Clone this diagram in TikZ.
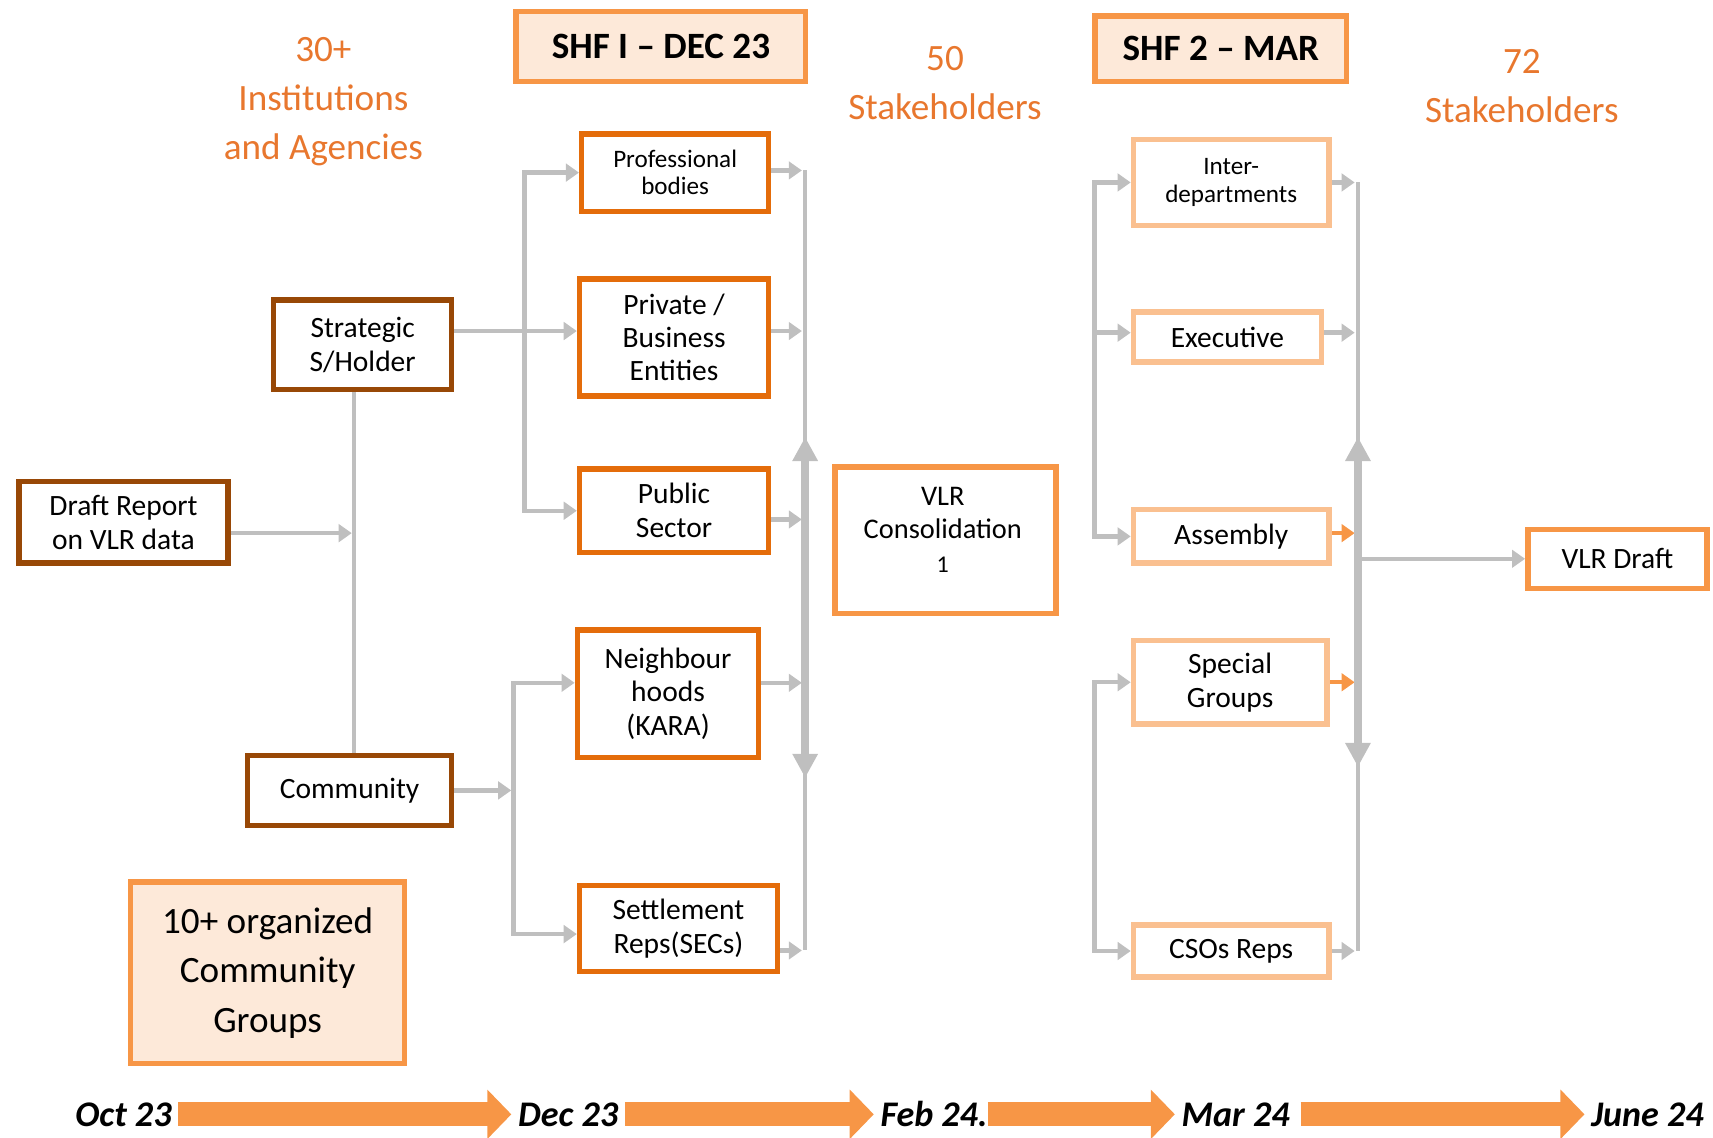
\documentclass[tikz,border=0pt]{standalone}
\usepackage{fontspec}
\setmainfont{Carlito}
\usetikzlibrary{arrows.meta,backgrounds}
\definecolor{darkor}{HTML}{E46C0A}
\definecolor{brownb}{HTML}{984806}
\definecolor{medor}{HTML}{F79646}
\definecolor{lightor}{HTML}{FAC090}
\definecolor{peach}{HTML}{FDE9D9}
\definecolor{lgray}{HTML}{BFBFBF}
\definecolor{textor}{HTML}{E8772E}
\newcommand\myfs[2]{\fontsize{#1}{#2}\selectfont}
\begin{document}
\begin{tikzpicture}[x=1pt,y=-1pt,
  tbox/.style={draw, line width=5pt, fill=white, align=center, inner sep=0pt, text=black},
  box1/.style={tbox, draw=darkor},
  boxb/.style={tbox, draw=brownb},
  boxm/.style={tbox, draw=medor},
  boxl/.style={tbox, draw=lightor},
  headbox/.style={tbox, draw=medor, fill=peach},
  toplab/.style={align=center, text=textor, font=\myfs{34}{45}, inner sep=0pt},
  gline/.style={draw=lgray, line width=4pt},
  garrow/.style={gline, -{Triangle[width=16pt,length=12pt]}},
  oarrow/.style={draw=medor, line width=4pt, -{Triangle[width=16pt,length=12pt]}},
  bidir/.style={draw=lgray, line width=7pt, {Triangle[width=22pt,length=22pt]}-{Triangle[width=22pt,length=22pt]}},
  tl/.style={font=\myfs{33}{36}\bfseries\itshape, inner sep=6pt, text height=23pt, text depth=1pt},
  blk/.style={draw=medor, line width=22pt, -{Triangle[width=44pt,length=22pt]}},
  sm/.style={font=\myfs{23}{25}},
  md/.style={font=\myfs{27}{31}}
]
\useasboundingbox (0,0) rectangle (1568,1041);

% top labels
\node[toplab] (l30) at (296,93) {30+\\Institutions\\and Agencies};
\node[toplab] (l50) at (865,76) {50\\Stakeholders};
\node[toplab] (l72) at (1393,79) {72\\Stakeholders};
\node[headbox, minimum width=265, minimum height=64, font=\myfs{34}{40}\bfseries] (shf1) at (605,42.5) {SHF I – DEC 23};
\node[headbox, minimum width=230, minimum height=60, font=\myfs{34}{40}\bfseries] (shf2) at (1117.5,44.5) {SHF 2 – MAR};

% left column
\node[boxb, minimum width=163, minimum height=82, md] (strat) at (332,315.5) {Strategic\\S/Holder};
\node[boxb, minimum width=191, minimum height=75, md] (draft) at (113,478) {Draft Report\\on VLR data};
\node[boxb, minimum width=187, minimum height=64, md] (comm) at (320,723.5) {Community};
\node[headbox, minimum width=251, minimum height=166, font=\myfs{34}{45.5}] (grp) at (245,890.5) {10+ organized\\Community\\Groups};

% first stage
\node[box1, minimum width=171, minimum height=71, sm] (prof) at (618,158) {Professional\\bodies};
\node[box1, minimum width=173, minimum height=107, font=\myfs{27}{30}] (priv) at (617,309) {Private /\\Business\\Entities};
\node[box1, minimum width=173, minimum height=76, md] (pub) at (617,467.5) {Public\\Sector};
\node[box1, minimum width=166, minimum height=117, font=\myfs{27}{30.5}] (neigh) at (611.5,635) {Neighbour\\hoods\\(KARA)};
\node[box1, minimum width=181, minimum height=79, md] (settle) at (621,850) {Settlement\\Reps(SECs)};

% consolidation
\node[boxm, minimum width=202, minimum height=134] (cons) at (865.5,494.5) {};
\node[align=center, font=\myfs{26}{31}, inner sep=0pt] (consT) at (863,485) {VLR\\Consolidation\\{\myfs{22}{31}1}};

% second stage
\node[boxl, minimum width=179, minimum height=79, sm] (inter) at (1127,167) {Inter-\\departments};
\node[boxl, minimum width=172, minimum height=46, md] (exec) at (1123.5,308.5) {Executive};
\node[boxl, minimum width=179, minimum height=49, md] (assem) at (1127,491) {Assembly};
\node[boxl, minimum width=177, minimum height=76, md] (spec) at (1126,624.5) {Special\\Groups};
\node[boxl, minimum width=179, minimum height=48, md] (csos) at (1127,870.5) {CSOs Reps};
\node[boxm, minimum width=164, minimum height=54, md] (vlrd) at (1480.5,511.5) {VLR Draft};

% bus reference coordinates
\coordinate (vx) at (324,0);
\coordinate (lb1) at (480,0);
\coordinate (lb2) at (470,0);
\coordinate (rb1) at (737,0);
\coordinate (lb3) at (1002,0);
\coordinate (rb2) at (1243,0);
\coordinate (dr) at ([yshift=-10pt]draft.east);
\coordinate (n1) at ([yshift=10pt]neigh.west);
\coordinate (s1) at ([yshift=-5pt]settle.west);
\coordinate (pe) at ([yshift=2pt]prof.east);
\coordinate (pre) at ([yshift=6pt]priv.east);
\coordinate (pue) at ([yshift=-8pt]pub.east);
\coordinate (ne) at ([yshift=10pt]neigh.east);
\coordinate (se) at ([yshift=-20pt]settle.east);
\coordinate (ee) at ([yshift=4pt]exec.west);
\coordinate (eo) at ([yshift=4pt]exec.east);
\coordinate (ao) at ([yshift=3pt]assem.east);
\coordinate (t1a) at (737,400);
\coordinate (t1b) at (737,712);
\coordinate (t2a) at (1243,400);
\coordinate (t2b) at (1243,702);

\begin{pgfonlayer}{background}
% strategic / community feeds
\draw[garrow] (strat.east |- pre) -- (priv.west |- pre);
\draw[garrow] (lb1 |- pre) |- (prof.west);
\draw[garrow] (lb1 |- pre) |- (pub.west);
\draw[gline] (vx |- strat.south) -- (vx |- comm.north);
\draw[garrow, shorten >=2pt] (dr) -- (dr -| vx);
\draw[garrow, shorten >=2pt] (comm.east) -- (comm.east -| lb2);
\draw[garrow] (lb2 |- s1) |- (n1);
\draw[garrow] (lb2 |- n1) |- (s1);
% first stage outputs
\draw[garrow, shorten >=3pt] (pe) -- (pe -| rb1);
\draw[garrow, shorten >=3pt] (pre) -- (pre -| rb1);
\draw[garrow, shorten >=3pt] (pue) -- (pue -| rb1);
\draw[garrow, shorten >=3pt] (ne) -- (ne -| rb1);
\draw[garrow, shorten >=3pt] (se) -- (se -| rb1);
\draw[gline] (rb1 |- pe) -- (rb1 |- se);
\draw[bidir] (t1a) -- (t1b);
% second stage inputs
\draw[garrow] (lb3 |- assem.west) |- (inter.west);
\draw[garrow] (lb3 |- ee) -- (ee);
\draw[garrow] (lb3 |- inter.west) |- (assem.west);
\draw[garrow] (lb3 |- csos.west) |- (spec.west);
\draw[garrow] (lb3 |- spec.west) |- (csos.west);
% second stage outputs
\draw[garrow, shorten >=3pt] (inter.east) -- (inter.east -| rb2);
\draw[garrow, shorten >=3pt] (eo) -- (eo -| rb2);
\draw[oarrow, shorten >=3pt] (ao) -- (ao -| rb2);
\draw[oarrow, shorten >=3pt] (spec.east) -- (spec.east -| rb2);
\draw[garrow, shorten >=3pt] (csos.east) -- (csos.east -| rb2);
\draw[gline] (rb2 |- inter.east) -- (rb2 |- csos.east);
\draw[bidir] (t2a) -- (t2b);
\draw[garrow] (rb2 |- vlrd.west) -- (vlrd.west);
\end{pgfonlayer}

% timeline
\node[tl] (oct) at (113,1020) {Oct 23};
\node[tl] (dec) at (520,1020) {Dec 23};
\node[tl] (feb) at (855,1020) {Feb 24.};
\node[tl] (mar) at (1131,1020) {Mar 24};
\node[tl] (jun) at (1508,1020) {June 24};
\draw[blk] (oct.east) -- (dec.west);
\draw[blk] (dec.east) -- (feb.west);
\draw[blk] ([xshift=-6pt]feb.east) -- (mar.west);
\draw[blk] ([xshift=4pt]mar.east) -- (jun.west);
\end{tikzpicture}
\end{document}
